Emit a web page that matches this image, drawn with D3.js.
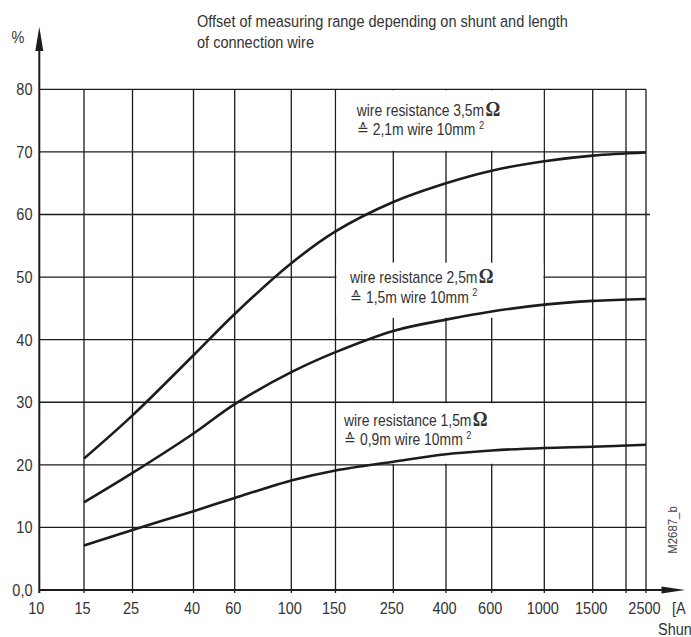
<!DOCTYPE html>
<html><head><meta charset="utf-8">
<script src="https://cdn.jsdelivr.net/npm/d3@7/dist/d3.min.js"></script>
<style>
html,body{margin:0;padding:0;background:#fff;}
svg{display:block;}
</style>
</head><body>
<svg id="c" width="691" height="637"></svg>
<script>
// ---- data ----
const shuntTicks = [10, 15, 25, 40, 60, 100, 150, 250, 400, 600, 1000, 1500, 2500];
const gridShunts = [15, 25, 40, 60, 100, 150, 250, 400, 600, 1000, 1500, 2000, 2500];
const yTickValues = [0, 10, 20, 30, 40, 50, 60, 70, 80];
const yTickLabels = ["0,0", "10", "20", "30", "40", "50", "60", "70", "80"];
const shuntX = [15, 25, 40, 60, 100, 150, 250, 400, 600, 1000, 1500, 2500];
const offset35 = [21.0, 27.9, 37.5, 44.1, 52.2, 57.3, 62.0, 65.0, 67.0, 68.5, 69.4, 69.9];
const offset25 = [14.0, 18.7, 25.0, 29.7, 34.8, 38.0, 41.4, 43.2, 44.5, 45.6, 46.2, 46.5];
const offset15 = [7.1, 9.6, 12.6, 14.7, 17.5, 19.1, 20.5, 21.7, 22.3, 22.7, 22.9, 23.2];
const resistanceLabels = ["wire resistance 3,5m", "wire resistance 2,5m", "wire resistance 1,5m"];
const wireLabels = ["\u2259 2,1m wire 10mm", "\u2259 1,5m wire 10mm", "\u2259 0,9m wire 10mm"];
const titleLines = ["Offset of measuring range depending on shunt and length", "of connection wire"];

// ---- layout ----
const svg = d3.select("#c");
// the printed shunt axis is a hand-drawn, roughly logarithmic scale: piecewise log scale
const axisStops = [10, 15, 25, 40, 60, 100, 150, 250, 400, 600, 1000, 1500, 2000, 2500];
const axisPx = [39.3, 84, 132.5, 193.5, 234.7, 291.3, 335.5, 393.3, 446, 491.7, 544.3, 592.7, 626, 646];
const x = d3.scaleLog().domain(axisStops).range(axisPx);
const y = d3.scaleLinear().domain([0, 80]).range([590, 89.3]);
const ink = "#1c1c1c";
const textCol = "#333";
const SX = 0.88;
const FONT = "'Liberation Sans', Arial, Helvetica, sans-serif";

function txt(px, py, s, size, anchor, g) {
  return (g || svg).append("text")
    .attr("transform", `translate(${px},${py}) scale(${SX},1)`)
    .attr("text-anchor", anchor || "start")
    .attr("font-family", FONT)
    .attr("font-size", size)
    .attr("fill", textCol)
    .text(s);
}

// ---- grid ----
const grid = svg.append("g").attr("stroke", ink).attr("stroke-width", 1.3).attr("fill", "none");
yTickValues.filter(v => v > 0).forEach(v => {
  grid.append("line")
    .attr("x1", x(10)).attr("x2", v === 60 ? x(2500) + 4 : x(2500))
    .attr("y1", y(v)).attr("y2", y(v));
});
gridShunts.forEach(s => {
  grid.append("line")
    .attr("x1", x(s)).attr("x2", x(s))
    .attr("y1", y(80)).attr("y2", y(0) + 3);
});

// ---- label masks (grid interrupted behind the labels) ----
const masks = [[70, 80], [43.5, 52.3], [20, 30]];
masks.forEach(([lo, hi]) => {
  svg.append("rect")
    .attr("x", x(150) + 1).attr("width", x(1000) - x(150) - 2)
    .attr("y", y(hi) + (hi % 10 === 0 ? 1 : 0))
    .attr("height", y(lo) - y(hi) - (hi % 10 === 0 ? 1 : 0) - (lo % 10 === 0 ? 1 : 0))
    .attr("fill", "#fff");
});

// ---- axes ----
const ax = svg.append("g").attr("stroke", ink).attr("fill", ink);
ax.append("line").attr("x1", x(10)).attr("x2", x(10)).attr("y1", y(0) + 3).attr("y2", 45)
  .attr("stroke-width", 2);
ax.append("path").attr("d", `M${x(10)},26.7 L${x(10) - 4},51 L${x(10) + 4},51 Z`).attr("stroke", "none");
ax.append("line").attr("x1", x(10)).attr("x2", 668).attr("y1", y(0)).attr("y2", y(0))
  .attr("stroke-width", 2);
ax.append("path").attr("d", `M685,${y(0)} L661.5,${y(0) - 3.6} L661.5,${y(0) + 3.6} Z`).attr("stroke", "none");

// ---- curves ----
const line = d3.line().x(d => x(d[0])).y(d => y(d[1])).curve(d3.curveCatmullRom.alpha(0.5));
[offset35, offset25, offset15].forEach(series => {
  svg.append("path")
    .attr("d", line(shuntX.map((s, i) => [s, series[i]])))
    .attr("fill", "none").attr("stroke", ink).attr("stroke-width", 2.6)
    .attr("stroke-linejoin", "round").attr("stroke-linecap", "butt");
});

// ---- tick labels ----
yTickValues.forEach((v, i) => txt(32.5, y(v) + 5.9, yTickLabels[i], 16.5, "end"));
shuntTicks.forEach(s => txt(x(s) - (s === 10 ? 3 : 1.5), 614, String(s), 16.5, "middle"));
txt(672, 614, "[A", 16.5, "start");
txt(658, 635, "Shun", 16.5, "start");
txt(11.5, 43.3, "%", 16.5, "start");

// ---- title ----
titleLines.forEach((t, i) => txt(197, 26.7 + i * 21.6, t, 16.5, "start"));

// ---- curve labels ----
const labelPos = [[356.7, 115.7], [350, 283.3], [344, 425.7]];
labelPos.forEach(([lx, ly], i) => {
  const t1 = txt(lx, ly, resistanceLabels[i], 15.8, "start");
  t1.append("tspan").attr("font-family", "'Liberation Serif', 'Times New Roman', serif")
    .attr("font-weight", "bold").attr("font-size", 21).attr("dx", 1.5).text("\u03A9");
  const t2 = txt(lx, ly + 19.4, wireLabels[i], 15.8, "start");
  t2.append("tspan").attr("font-size", 10.5).attr("dx", 4).attr("dy", -6.5).text("2");
});

// ---- drawing id ----
svg.append("text")
  .attr("transform", `translate(676.5,530) rotate(-90) scale(${SX},1)`)
  .attr("text-anchor", "middle").attr("font-family", FONT).attr("font-size", 13)
  .attr("fill", "#444").text("M2687_b");
</script>
</body></html>
